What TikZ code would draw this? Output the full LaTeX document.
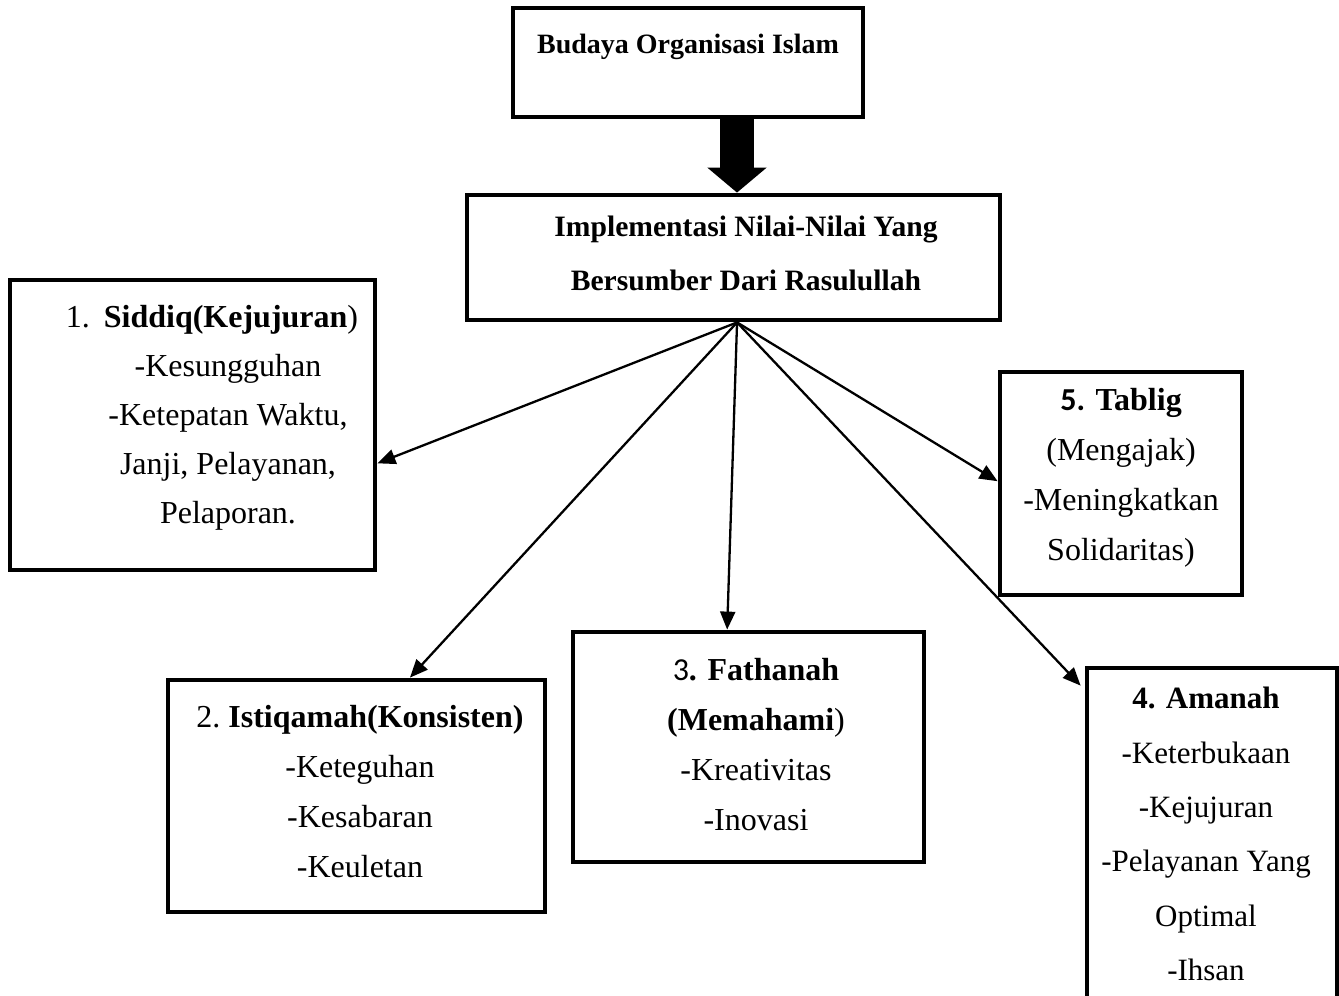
\documentclass[tikz,border=0pt]{standalone}
\usepackage{fontspec}
\setmainfont{Liberation Serif}
\newfontfamily\carlito{Carlito}
\usetikzlibrary{arrows.meta,calc}
\begin{document}
\begin{tikzpicture}[x=1pt,y=-1pt,
  boxnode/.style={draw, line width=4.8pt, rectangle, inner sep=0pt, fill=white},
  txt/.style={align=center, inner sep=0pt, font=\fontsize{32}{50}\selectfont},
  conn/.style={line width=2.3pt, -{Triangle[length=18pt,width=15pt]}},
  bigarrow/.style={line width=34pt, -{Triangle[length=25pt,width=58pt]}}]
\useasboundingbox (0,0) rectangle (1339,996);
\clip (0,0) rectangle (1339,996);
% boxes
\node[boxnode, minimum width=350pt, minimum height=109pt] (title) at (688,62.5) {};
\node[boxnode, minimum width=533pt, minimum height=125pt] (impl) at (733.5,257.5) {};
\node[boxnode, minimum width=365pt, minimum height=290pt] (siddiq) at (192.5,425) {};
\node[boxnode, minimum width=242pt, minimum height=223pt] (tablig) at (1121,483.5) {};
\node[boxnode, minimum width=377pt, minimum height=232pt] (istiqamah) at (356.5,796) {};
\node[boxnode, minimum width=351pt, minimum height=230pt] (fathanah) at (748.5,747) {};
\node[boxnode, minimum width=250pt, minimum height=352pt] (amanah) at (1212,844) {};
% texts
\node[txt, font=\fontsize{28}{34}\selectfont\bfseries] (titleT) at (688,47) {Budaya Organisasi Islam};
\node[txt, font=\fontsize{29.6}{54}\selectfont\bfseries] (implT) at (746,253) {Implementasi Nilai-Nilai Yang\\Bersumber Dari Rasulullah};
\node[txt, font=\fontsize{32}{49}\selectfont] (siddiqT) at (228,418) {\hspace*{-32pt}1.\hspace{14pt}\textbf{Siddiq(Kejujuran})\\-Kesungguhan\\-Ketepatan Waktu,\\Janji, Pelayanan,\\Pelaporan.};
\node[txt] (tabligT) at (1121,478) {{\carlito\bfseries 5.} \textbf{Tablig}\\(Mengajak)\\-Meningkatkan\\Solidaritas)};
\node[txt] (istiqamahT) at (360,792) {2.\ \textbf{Istiqamah(Konsisten)}\\-Keteguhan\\-Kesabaran\\-Keuletan};
\node[txt] (fathanahT) at (756,744.5) {{\carlito 3}\textbf{. Fathanah}\\\textbf{(Memahami})\\-Kreativitas\\-Inovasi};
\node[txt, font=\fontsize{31}{54.4}\selectfont] (amanahT) at (1206,834) {\textbf{4. Amanah}\\-Keterbukaan\\-Kejujuran\\-Pelayanan Yang\\Optimal\\-Ihsan};
% connectors
\draw[bigarrow] (title.south -| 737,0) -- (impl.north -| 737,0);
\coordinate (o) at ($(impl.south west)!0.5066!(impl.south east)$);
\draw[conn] (o) -- ($(siddiq.north east)!0.63!(siddiq.south east)$);
\draw[conn] (o) -- ($(istiqamah.north west)!0.64!(istiqamah.north east)$);
\draw[conn] (o) -- ($(fathanah.north west)!0.44!(fathanah.north east)$);
\draw[conn] (o) -- ($(amanah.north west)+(-4,20)$);
\draw[conn] (o) -- ($(tablig.north west)!0.49!(tablig.south west)$);
\end{tikzpicture}
\end{document}
